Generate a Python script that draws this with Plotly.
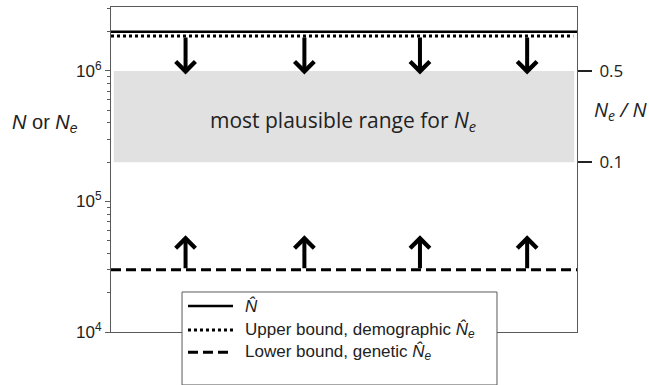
import numpy as np
import plotly.graph_objects as go

# ---- data ----
N_hat = 2.0e6                 # census estimate N-hat
upper_Ne = 1.85e6             # upper bound, demographic Ne-hat
lower_Ne = 3.0e4              # lower bound, genetic Ne-hat
ratio_lo, ratio_hi = 0.1, 0.5 # most plausible Ne/N
arrow_x = [1.6, 4.15, 6.63, 8.93]
down_tip = 9.4e5
up_tip = 5.5e4
left_ticks = [1e4, 1e5, 1e6]
left_ticktext = ["10<sup>4</sup>", "10<sup>5</sup>", "10<sup>6</sup>"]
right_ticks = [0.1, 0.5]
right_ticktext = ["0.1", "0.5"]
legend_names = ["<i>N\u0302</i>",
                "Upper bound, demographic <i>N\u0302</i><sub><i>e</i></sub>",
                "Lower bound, genetic <i>N\u0302</i><sub><i>e</i></sub>"]

y_lo, y_hi = 4.0, 6.49
x_lo, x_hi = 0.0, 10.0
axis_col = "#5a5a5a"
arial = "Liberation Sans, Arial, sans-serif"
sans = "Open Sans, Noto Sans, sans-serif"
styles = [dict(color="black", width=2.5),
          dict(color="black", width=3, dash="dot"),
          dict(color="black", width=3, dash="10px,5px")]

fig = go.Figure()

# shaded plausible range
fig.add_trace(go.Scatter(
    x=[0.06, 9.94, 9.94, 0.06], y=[N_hat * ratio_lo, N_hat * ratio_lo, N_hat * ratio_hi, N_hat * ratio_hi],
    fill="toself", fillcolor="#e1e1e1", line=dict(width=0), mode="lines",
    showlegend=False, hoverinfo="skip"))

fig.add_trace(go.Scatter(x=[x_lo, x_hi], y=[N_hat, N_hat], mode="lines",
                         line=styles[0], name=legend_names[0], showlegend=False))
fig.add_trace(go.Scatter(x=[x_lo, 9.92], y=[upper_Ne, upper_Ne], mode="lines",
                         line=styles[1], name=legend_names[1], showlegend=False))
fig.add_trace(go.Scatter(x=[x_lo, x_hi], y=[lower_Ne, lower_Ne], mode="lines",
                         line=styles[2], name=legend_names[2], showlegend=False))
# invisible trace for the right axis
fig.add_trace(go.Scatter(x=[None], y=[None], yaxis="y2", showlegend=False, hoverinfo="skip"))

annotations = []
for xa in arrow_x:
    annotations.append(dict(x=xa, y=np.log10(down_tip), ax=xa, ay=np.log10(upper_Ne),
                            xref="x", yref="y", axref="x", ayref="y", text="",
                            showarrow=True, arrowhead=4, arrowwidth=4, arrowsize=0.95,
                            arrowcolor="black"))
    annotations.append(dict(x=xa, y=np.log10(up_tip), ax=xa, ay=np.log10(lower_Ne),
                            xref="x", yref="y", axref="x", ayref="y", text="",
                            showarrow=True, arrowhead=4, arrowwidth=4, arrowsize=0.95,
                            arrowcolor="black"))

annotations.append(dict(x=4.98, y=5.615, xref="x", yref="y", showarrow=False,
                        text="most plausible range for <i>N</i><sub><i>e</i></sub>",
                        font=dict(family=sans, size=21, color="#222"),
                        xanchor="center", yanchor="middle"))
annotations.append(dict(x=-0.1416, y=0.643, xref="paper", yref="paper", showarrow=False,
                        text="<i>N</i> or <i>N</i><sub><i>e</i></sub>",
                        font=dict(family=arial, size=20, color="#222"),
                        xanchor="center", yanchor="middle"))
annotations.append(dict(x=1.094, y=0.683, xref="paper", yref="paper", showarrow=False,
                        text="<i>N</i><sub><i>e</i></sub><i> / N</i>",
                        font=dict(family=sans, size=20, color="#222"),
                        xanchor="center", yanchor="middle"))

# ---- manual legend box (paper coordinates) ----
shapes = [dict(type="rect", xref="paper", yref="paper", x0=0.1524, x1=0.8283, y0=-0.163, y1=0.1231,
               fillcolor="white", line=dict(color=axis_col, width=1), layer="above")]
row_y = [0.08, 0.006, -0.062]
for ry, st, nm in zip(row_y, styles, legend_names):
    shapes.append(dict(type="line", xref="paper", yref="paper", x0=0.1652, x1=0.2618, y0=ry, y1=ry,
                       line=st, layer="above"))
    annotations.append(dict(x=0.2833, y=ry, xref="paper", yref="paper", showarrow=False,
                            text=nm, xanchor="left", yanchor="middle",
                            font=dict(family=arial, size=17, color="#222")))

minor_vals = [m * 10 ** d for d in (4, 5, 6) for m in range(2, 10) if m * 10 ** d < 10 ** y_hi]

fig.update_layout(
    width=649, height=385,
    margin=dict(l=111, r=72, t=7, b=53),
    plot_bgcolor="white", paper_bgcolor="white",
    showlegend=False,
    annotations=annotations,
    shapes=shapes,
    xaxis=dict(range=[x_lo, x_hi], showline=True, linecolor=axis_col, linewidth=1, mirror=True,
               showticklabels=False, ticks="", showgrid=False, zeroline=False),
    yaxis=dict(type="log", range=[y_lo, y_hi], showline=True, linecolor=axis_col, linewidth=1,
               mirror=True, showgrid=False, zeroline=False,
               tickvals=left_ticks, ticktext=left_ticktext, ticks="outside", ticklen=5,
               tickcolor=axis_col, tickfont=dict(family=arial, size=17, color="#222"),
               minor=dict(tickvals=minor_vals, ticks="outside", ticklen=3, tickcolor=axis_col,
                          showgrid=False)),
    yaxis2=dict(type="log", overlaying="y", side="right", anchor="x",
                range=[y_lo - np.log10(N_hat), y_hi - np.log10(N_hat)],
                tickvals=right_ticks, ticktext=right_ticktext, ticks="outside", ticklen=14,
                tickwidth=2, tickcolor="#222", showline=False, showgrid=False, zeroline=False,
                ticklabelstandoff=4,
                tickfont=dict(family=sans, size=17, color="#222")),
)

fig.write_html("out.html")
